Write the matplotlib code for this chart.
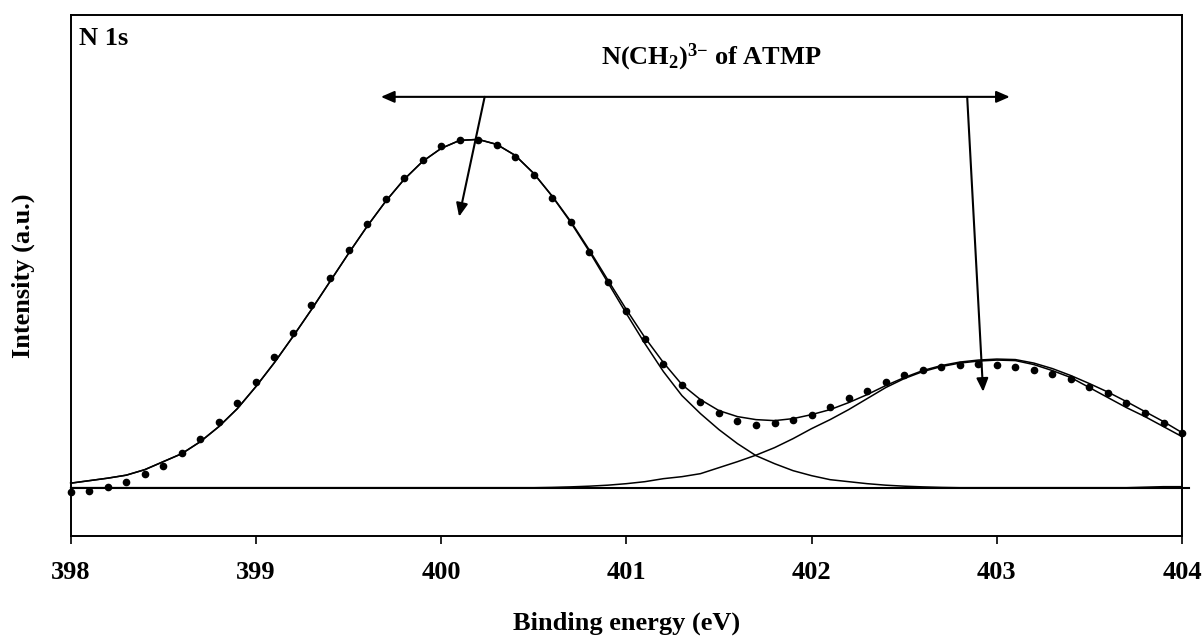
import matplotlib.pyplot as plt
import numpy as np

plt.rcParams['font.family'] = ['Liberation Serif', 'DejaVu Serif']
plt.rcParams['font.weight'] = 'bold'
plt.rcParams['mathtext.fontset'] = 'custom'
plt.rcParams['mathtext.rm'] = 'Liberation Serif:bold'
plt.rcParams['mathtext.it'] = 'Liberation Serif:bold'
plt.rcParams['mathtext.bf'] = 'Liberation Serif:bold'

# binding energy grid (eV), 0.1 eV steps
energy = np.round(np.arange(398.0, 404.001, 0.1), 1)

# measured N 1s spectrum (dots)
measured = [
    -4.8, -3.2, 0.2, 5.2, 13.2, 21.5, 34.8, 48.2, 65.8, 84.2,
    105.5, 130.5, 154.8, 182.8, 209.5, 237.5, 263.8, 288.4, 309.8, 327.5,
    341.2, 347.5, 347.5, 342.8, 330.8, 312.8, 289.8, 265.5, 235.5, 206.0,
    176.5, 148.5, 123.8, 102.3, 85.5, 74.2, 66.5, 62.8, 64.2, 67.5,
    72.5, 80.8, 89.2, 96.8, 105.2, 112.2, 117.2, 120.5, 122.2, 123.5,
    122.2, 120.5, 117.2, 113.8, 108.8, 100.8, 94.2, 84.2, 74.2, 64.2,
    54.8,
]

# fitted envelope
envelope = [
    4.5, 7, 9.5, 12.5, 18, 26, 34, 46, 61, 79,
    101, 125, 151, 178, 206, 234, 261, 286, 308, 326,
    339, 347, 348, 343, 332, 314, 291.3, 266, 237.5, 207.5,
    178, 150, 125, 103, 88, 77, 71, 68, 67, 69,
    73, 78, 85, 93, 102, 110, 117, 122, 125.5, 127.5,
    128.5, 128, 124.5, 119, 112, 104, 95.5, 86, 76, 66,
    55,
]

# component 1 (~400.2 eV)
peak_1 = [
    4.5, 7, 9.5, 12.5, 18, 26, 34, 46, 61, 79,
    101, 125, 151, 178, 206, 234, 261, 286, 308, 326,
    339, 347, 348, 343, 332, 314, 291, 265, 236, 205,
    174, 144, 116, 92, 74, 58, 44, 32, 24, 17,
    12, 8, 6, 4, 2.5, 1.5, 0.8, 0.3, 0, 0,
    0, 0, 0, 0, 0, 0, 0, 0, 0.5, 1,
    1,
]

# component 2 (~403.0 eV)
peak_2 = [
    0, 0, 0, 0, 0, 0, 0, 0, 0, 0,
    0, 0, 0, 0, 0, 0, 0, 0, 0, 0,
    0, 0, 0, 0, 0, 0, 0.3, 0.8, 1.5, 2.5,
    4, 6, 9, 11, 14, 20, 26, 32.5, 40, 49,
    59, 68, 78, 89, 100, 109, 116, 121, 124.5, 126.5,
    127.5, 127, 123, 117, 110, 100, 90, 80, 71, 61,
    51,
]

# background
bg_energy = [398.0, 404.04]
background = [0, 0]

x_ticks = [398, 399, 400, 401, 402, 403, 404]

fig = plt.figure(figsize=(12.02, 6.37), dpi=100)
ax = fig.add_axes([0.0588, 0.159, 0.9246, 0.817])

ax.plot(bg_energy, background, color='black', lw=1.5, clip_on=False)
ax.plot(energy, peak_1, color='black', lw=1.1, clip_on=False)
ax.plot(energy, peak_2, color='black', lw=1.1, clip_on=False)
ax.plot(energy, envelope, color='black', lw=1.1, clip_on=False)
ax.plot(energy, measured, 'o', color='black', ms=4.5, clip_on=False, zorder=5)

ax.set_xlim(398, 404)
ax.set_ylim(-48, 472)

ax.set_xticks(x_ticks)
ax.set_xticklabels([str(t) for t in x_ticks])
ax.set_yticks([])
ax.tick_params(axis='x', direction='out', length=6, width=1.2, pad=12.5,
               labelsize=19)
for s in ax.spines.values():
    s.set_linewidth(1.4)

ax.set_xlabel('Binding energy (eV)', fontsize=19, fontweight='bold',
              va='baseline')
ax.xaxis.set_label_coords(0.5, -0.1813)
ax.set_ylabel('Intensity (a.u.)', fontsize=19, fontweight='bold',
              va='center')
ax.yaxis.set_label_coords(-0.043, 0.5)

ax.text(0.0077, 0.9423, 'N 1s', transform=ax.transAxes, fontsize=19,
        fontweight='bold', ha='left', va='baseline')

ax.text(400.862, 422.5, r'N(CH$_2$)$^{3{-}}$ of ATMP', fontsize=19,
        fontweight='bold', ha='left', va='baseline')

head = dict(color='black', lw=1.5, shrinkA=0, shrinkB=0, mutation_scale=10)
ax.annotate('', xy=(399.675, 390.5), xytext=(403.07, 390.5),
            arrowprops=dict(arrowstyle='<|-|>,head_length=0.8,head_width=0.35', **head))
ax.annotate('', xy=(400.097, 270.8), xytext=(400.235, 390.5),
            arrowprops=dict(arrowstyle='-|>,head_length=0.8,head_width=0.35', **head))
ax.annotate('', xy=(402.926, 95.8), xytext=(402.84, 390.5),
            arrowprops=dict(arrowstyle='-|>,head_length=0.8,head_width=0.35', **head))

fig.savefig('out.png', dpi=100)
